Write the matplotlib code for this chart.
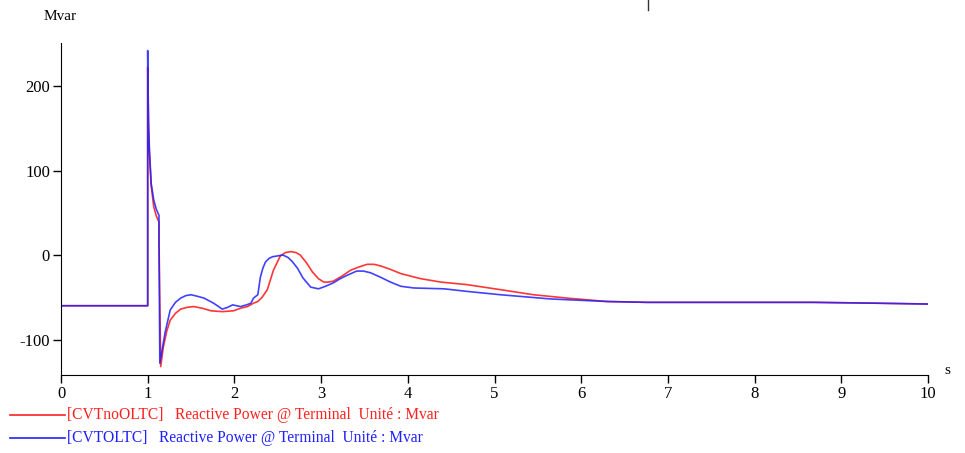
import numpy as np
import matplotlib.pyplot as plt
from matplotlib.lines import Line2D

# ================================
# DATA
# ================================
t_red = [0.0, 1.0, 1.0, 1.005, 1.01, 1.02, 1.04, 1.07, 1.10, 1.13, 1.13, 1.15,
         1.18, 1.22, 1.26, 1.32, 1.38, 1.45, 1.53, 1.63, 1.73, 1.86, 1.99, 2.07,
         2.15, 2.22, 2.27, 2.32, 2.38, 2.45, 2.53, 2.59, 2.65, 2.71, 2.76, 2.83,
         2.90, 2.97, 3.03, 3.08, 3.14, 3.24, 3.34, 3.44, 3.53, 3.61, 3.69, 3.80,
         3.92, 4.15, 4.38, 4.68, 5.07, 5.45, 5.84, 6.30, 6.76, 7.5, 8.68, 9.4, 10.0]
q_red = [-60, -60, 222, 185, 150, 120, 82, 57, 46, 39, 20, -132,
         -109, -90, -77, -69, -64, -62, -61, -63, -66, -67, -66, -63,
         -61, -57, -55, -50, -41, -18, -1, 3, 4, 3, 0, -9,
         -20, -28, -32, -32, -31, -25, -18, -14, -11, -11, -13, -17,
         -22, -28, -32, -35, -41, -47, -51, -55, -56, -56, -56, -57, -58]

t_blue = [0.0, 1.0, 1.0, 1.005, 1.01, 1.02, 1.04, 1.07, 1.10, 1.13, 1.13, 1.14,
          1.17, 1.20, 1.26, 1.32, 1.38, 1.44, 1.50, 1.58, 1.65, 1.76, 1.86, 1.92,
          1.98, 2.07, 2.14, 2.19, 2.22, 2.27, 2.30, 2.33, 2.36, 2.40, 2.44, 2.50,
          2.56, 2.62, 2.67, 2.73, 2.79, 2.88, 2.97, 3.05, 3.14, 3.22, 3.30, 3.41,
          3.49, 3.57, 3.68, 3.80, 3.92, 4.07, 4.42, 4.68, 5.07, 5.65, 6.30, 6.76,
          7.5, 8.68, 9.4, 10.0]
q_blue = [-60, -60, 242, 195, 155, 124, 85, 65, 54, 47, 20, -128,
          -110, -92, -65, -56, -51, -48, -47, -49, -51, -57, -64, -62,
          -59, -61, -59, -57, -51, -47, -26, -15, -8, -4, -2, -1,
          0, -3, -8, -16, -27, -38, -40, -37, -33, -28, -24, -19,
          -19, -21, -26, -32, -37, -39, -40, -43, -47, -52, -55, -56,
          -56, -56, -57, -58]

x_ticks = [0, 1, 2, 3, 4, 5, 6, 7, 8, 9, 10]
y_ticks = [-100, 0, 100, 200]

label_red = "[CVTnoOLTC]   Reactive Power @ Terminal  Unit\u00e9 : Mvar"
label_blue = "[CVTOLTC]   Reactive Power @ Terminal  Unit\u00e9 : Mvar"

plt.rcParams['font.family'] = ['Liberation Serif', 'DejaVu Serif']
plt.rcParams['axes.unicode_minus'] = False

# ================================
# PLOT
# ================================
fig = plt.figure(figsize=(9.65, 4.53), dpi=100)
ax = fig.add_axes([61/965, 1-375/453, (928-61)/965, (375-43)/453])

ax.plot(t_red, q_red, color='#ff2020', lw=1.2, alpha=0.9)
ax.plot(t_blue, q_blue, color='#2020ff', lw=1.2, alpha=0.85)

ax.set_xlim(0, 10)
ax.set_ylim(-142, 251)
ax.set_xticks(x_ticks)
ax.set_yticks(y_ticks)
ax.tick_params(direction='out', length=6, width=1, labelsize=12, pad=2)
ax.spines['top'].set_visible(False)
ax.spines['right'].set_visible(False)

fig.text(44/965, 1-17/453, "Mvar", fontsize=11, va='center', ha='left')
fig.text(944/965, 1-371/453, "s", fontsize=11, va='center', ha='left')

# legend drawn by hand, like the original
fig.add_artist(Line2D([10/965, 65/965], [1-415/453, 1-415/453], color='#ff2020', lw=1.2))
fig.add_artist(Line2D([10/965, 65/965], [1-438/453, 1-438/453], color='#2020ff', lw=1.2))
fig.text(67/965, 1-415/453, label_red, color='#ff2020', fontsize=11.2, va='center')
fig.text(67/965, 1-438/453, label_blue, color='#2020ff', fontsize=11.2, va='center')

# small mark at the top edge
fig.add_artist(Line2D([648/965, 648/965], [1, 1-10/453], color='#333333', lw=1))

fig.savefig("out.png", dpi=100)
